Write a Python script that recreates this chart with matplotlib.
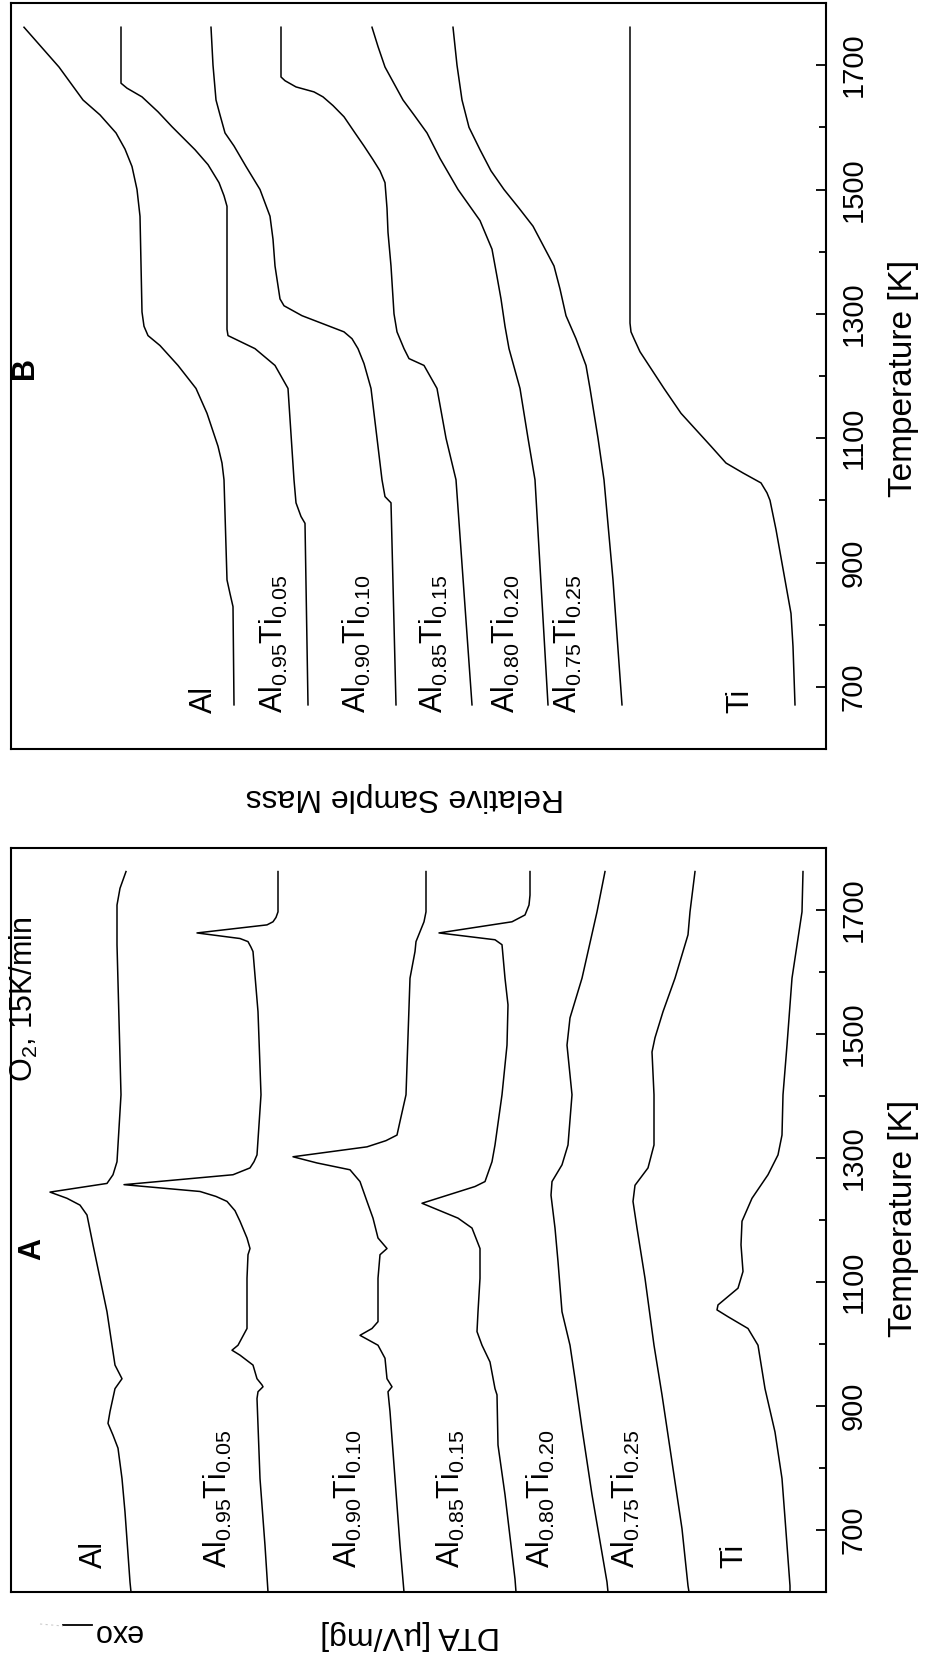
import matplotlib
matplotlib.use("Agg")
import matplotlib.pyplot as plt
from matplotlib.lines import Line2D

plt.rcParams["font.family"] = ["Liberation Sans", "DejaVu Sans"]
plt.rcParams["mathtext.fontset"] = "custom"
plt.rcParams["mathtext.rm"] = "Liberation Sans"
plt.rcParams["mathtext.it"] = "Liberation Sans:italic"
plt.rcParams["mathtext.bf"] = "Liberation Sans:bold"

samples = ["Al", r"Al$_{0.95}$Ti$_{0.05}$", r"Al$_{0.90}$Ti$_{0.10}$",
           r"Al$_{0.85}$Ti$_{0.15}$", r"Al$_{0.80}$Ti$_{0.20}$",
           r"Al$_{0.75}$Ti$_{0.25}$", "Ti"]

# ---- DTA traces (panel A), temperature [K] vs. offset signal [a.u.] ----
dta_al_T = [600, 616, 729, 783, 832, 853, 872, 891, 928, 944, 966, 998, 1052, 1106, 1160,
            1208, 1224, 1235, 1245, 1259, 1273, 1294, 1402, 1644, 1708, 1735, 1762]
dta_al = [695, 696, 701, 704, 708, 713, 718, 716, 711, 704, 711, 714, 719, 726, 733,
          739, 746, 759, 776, 719, 713, 709, 705, 709, 709, 706, 700]

dta_al95_T = [600, 675, 783, 912, 923, 931, 934, 944, 966, 982, 990, 998, 1025, 1106, 1144,
              1154, 1171, 1198, 1215, 1230, 1238, 1246, 1257, 1273, 1284, 1294, 1305, 1402,
              1536, 1633, 1640, 1649, 1654, 1663, 1676, 1681, 1688, 1697, 1762]
dta_al95 = [558, 561, 566, 569, 568, 563, 564, 569, 573, 586, 594, 588, 579, 579, 578,
            576, 579, 586, 591, 599, 610, 626, 702, 593, 576, 572, 569, 565,
            568, 573, 575, 578, 586, 629, 559, 553, 550, 548, 548]

dta_al90_T = [600, 675, 783, 891, 923, 931, 944, 977, 998, 1014, 1025, 1036, 1106, 1144, 1154,
              1171, 1203, 1230, 1262, 1281, 1292, 1302, 1318, 1328, 1337, 1359, 1402, 1590,
              1633, 1649, 1665, 1681, 1697, 1762]
dta_al90 = [422, 426, 431, 436, 438, 434, 439, 441, 448, 466, 454, 448, 448, 446, 439,
            448, 453, 459, 466, 476, 509, 533, 459, 440, 429, 426, 420, 416,
            411, 410, 406, 402, 400, 400]

dta_al85_T = [600, 621, 757, 837, 918, 928, 971, 998, 1020, 1052, 1106, 1154, 1187, 1203, 1227,
              1254, 1262, 1294, 1321, 1402, 1482, 1547, 1590, 1644, 1652, 1663, 1681, 1692,
              1708, 1724, 1762]
dta_al85 = [310, 311, 321, 328, 329, 331, 336, 344, 349, 348, 346, 346, 354, 368, 404,
            351, 341, 334, 331, 324, 319, 318, 321, 324, 331, 387, 314, 301,
            297, 296, 296]

dta_al80_T = [600, 616, 757, 864, 944, 998, 1052, 1133, 1187, 1240, 1262, 1289, 1321, 1402,
              1482, 1526, 1590, 1697, 1762]
dta_al80 = [218, 219, 234, 244, 251, 256, 264, 268, 271, 275, 274, 264, 258, 254,
            259, 256, 244, 229, 221]

dta_al75_T = [600, 610, 702, 810, 918, 998, 1106, 1187, 1230, 1256, 1284, 1321, 1402, 1471,
              1494, 1536, 1590, 1660, 1697, 1762]
dta_al75 = [137, 138, 144, 154, 164, 172, 181, 189, 193, 191, 178, 172, 172, 174,
            171, 163, 151, 138, 136, 131]

dta_ti_T = [600, 610, 719, 783, 858, 928, 998, 1025, 1044, 1055, 1063, 1090, 1117, 1160,
            1198, 1235, 1273, 1305, 1337, 1402, 1482, 1590, 1697, 1762]
dta_ti = [36, 36, 41, 44, 51, 61, 68, 78, 98, 109, 108, 88, 83, 85,
          84, 74, 58, 48, 44, 43, 39, 34, 24, 23]

# ---- relative sample mass (panel B) ----
tg_al_T = [671, 829, 850, 872, 1033, 1060, 1087, 1140, 1180, 1217, 1249, 1265, 1280, 1303,
           1457, 1500, 1537, 1565, 1591, 1620, 1644, 1697, 1761]
tg_al = [592, 593, 596, 599, 602, 604, 608, 619, 630, 648, 666, 678, 682, 684,
         686, 689, 694, 701, 710, 726, 743, 767, 802]

tg_al95_T = [671, 963, 974, 996, 1033, 1180, 1217, 1244, 1265, 1275, 1473, 1490, 1511, 1540,
             1564, 1601, 1625, 1649, 1663, 1671, 1761]
tg_al95 = [518, 521, 525, 530, 532, 538, 551, 571, 598, 599, 599, 602, 607, 618,
           631, 654, 668, 684, 699, 705, 705]

tg_al90_T = [671, 996, 1006, 1033, 1100, 1180, 1220, 1244, 1260, 1271, 1284, 1297, 1313, 1324,
             1377, 1420, 1457, 1500, 1537, 1570, 1591, 1620, 1644, 1700, 1761]
tg_al90 = [430, 435, 441, 444, 449, 455, 462, 468, 474, 482, 503, 524, 542, 546,
           551, 553, 556, 566, 580, 592, 601, 606, 610, 613, 615]

tg_al85_T = [671, 1033, 1100, 1180, 1217, 1228, 1244, 1271, 1300, 1377, 1431, 1470, 1511, 1530,
             1548, 1570, 1591, 1617, 1635, 1649, 1657, 1665, 1675, 1681, 1761]
tg_al85 = [354, 370, 380, 389, 402, 417, 422, 429, 432, 435, 438, 439, 441, 446,
           453, 462, 471, 482, 493, 503, 512, 530, 541, 545, 545]

tg_al80_T = [671, 1033, 1100, 1180, 1244, 1280, 1324, 1360, 1404, 1450, 1500, 1550, 1591, 1620,
             1644, 1697, 1730, 1761]
tg_al80 = [278, 291, 298, 306, 317, 321, 325, 329, 334, 346, 368, 386, 399, 412,
           423, 441, 448, 454]

tg_al75_T = [671, 872, 1033, 1100, 1180, 1217, 1260, 1297, 1340, 1377, 1441, 1470, 1500, 1530,
             1564, 1600, 1644, 1700, 1761]
tg_al75 = [204, 213, 222, 228, 236, 240, 250, 260, 266, 272, 293, 307, 322, 335,
           346, 357, 364, 369, 373]

tg_ti_T = [671, 765, 818, 872, 953, 1000, 1012, 1028, 1044, 1060, 1087, 1140, 1180, 1239,
           1260, 1271, 1285, 1300, 1761]
tg_ti = [31, 33, 35, 41, 50, 56, 59, 65, 83, 100, 115, 145, 162, 186,
         192, 195, 196, 196, 196]

dta_curves = [(dta_al_T, dta_al), (dta_al95_T, dta_al95), (dta_al90_T, dta_al90),
              (dta_al85_T, dta_al85), (dta_al80_T, dta_al80), (dta_al75_T, dta_al75),
              (dta_ti_T, dta_ti)]
tg_curves = [(tg_al_T, tg_al), (tg_al95_T, tg_al95), (tg_al90_T, tg_al90),
             (tg_al85_T, tg_al85), (tg_al80_T, tg_al80), (tg_al75_T, tg_al75),
             (tg_ti_T, tg_ti)]

# where each trace name sits (signal units, start temperature)
dta_label_s = [724, 599, 469, 366, 276, 191, 84]
dta_label_T = 639
tg_label_s = [614, 543, 460, 383, 311, 249, 78]
tg_label_T = 658

FS = 22
W, H = 927, 1657
fig = plt.figure(figsize=(W / 100, H / 100), dpi=100)
axB = fig.add_axes([11 / W, 1 - 749 / H, 815 / W, 746 / H])
axA = fig.add_axes([11 / W, 1 - 1592 / H, 815 / W, 744 / H])


def style(ax):
    ax.set_ylim(600, 1800)
    ax.set_xlim(815, 0)
    ax.set_xticks([])
    ax.yaxis.tick_right()
    ax.set_yticks(range(700, 1800, 200))
    ax.set_yticks(range(800, 1700, 200), minor=True)
    ax.tick_params(axis="y", which="major", direction="in", length=7, width=1.3,
                   labelsize=21, pad=10, left=False, right=True)
    ax.tick_params(axis="y", which="minor", direction="in", length=5, width=1.3,
                   left=False, right=True)
    for lab in ax.get_yticklabels():
        lab.set_rotation(90)
        lab.set_ha("left")
        lab.set_va("center")
    for sp in ax.spines.values():
        sp.set_linewidth(1.5)


for ax, curves, lab_s, lab_T in [(axA, dta_curves, dta_label_s, dta_label_T),
                                 (axB, tg_curves, tg_label_s, tg_label_T)]:
    style(ax)
    for (T, s), name, xs in zip(curves, samples, lab_s):
        ax.plot(s, T, color="k", lw=1.1, solid_joinstyle="round")
        ax.text(xs, lab_T, name, rotation=90, rotation_mode="anchor",
                ha="left", va="baseline", fontsize=FS)

axB.text(793, 1213, "B", rotation=90, rotation_mode="anchor", ha="center",
         va="baseline", fontsize=FS, fontweight="bold")
axA.text(786, 1153, "A", rotation=90, rotation_mode="anchor", ha="center",
         va="baseline", fontsize=FS, fontweight="bold")
axA.text(793, 1423, r"O$_2$, 15K/min", rotation=90, rotation_mode="anchor",
         ha="left", va="baseline", fontsize=FS)

# axis titles (the page is printed sideways)
for yc in [378, 1218]:
    fig.text(912 / W, 1 - yc / H, "Temperature [K]", rotation=90, rotation_mode="anchor",
             ha="center", va="baseline", fontsize=24)
fig.text(405 / W, 1 - 789 / H, "Relative Sample Mass", rotation=180,
         rotation_mode="anchor", ha="center", va="baseline", fontsize=23)
fig.text(410 / W, 1 - 1627 / H, "DTA [µV/mg]", rotation=180,
         rotation_mode="anchor", ha="center", va="baseline", fontsize=23)
fig.text(117 / W, 1 - 1624 / H, "exo", rotation=180,
         rotation_mode="anchor", ha="center", va="baseline", fontsize=FS)
fig.add_artist(Line2D([63 / W, 92 / W], [1 - 1625 / H, 1 - 1625 / H],
                      color="k", lw=1.3))
fig.add_artist(Line2D([40 / W, 63 / W], [1 - 1624 / H, 1 - 1626 / H],
                      color="0.8", lw=0.8, ls=(0, (2, 3))))

fig.savefig("out.png", dpi=100)
